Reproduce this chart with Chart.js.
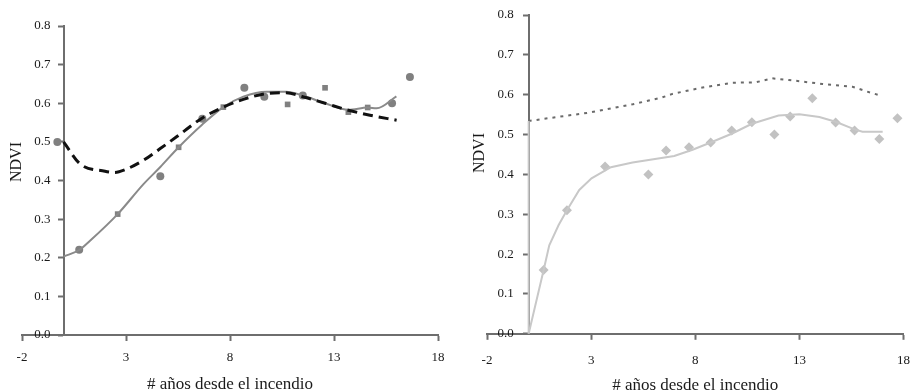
<!DOCTYPE html>
<html>
<head>
<meta charset="utf-8">
<script src="https://cdn.jsdelivr.net/npm/chart.js@4.4.1/dist/chart.umd.min.js"></script>
<style>
  html, body { margin: 0; padding: 0; background: #fff; }
  #wrap { position: relative; width: 912px; height: 390px; overflow: hidden; }
  .panel { position: absolute; top: 0; }
  #p1 { left: 0; width: 456px; height: 399px; }
  #p2 { left: 456px; width: 467px; height: 393px; }
</style>
</head>
<body>
<div id="wrap">
  <div class="panel" id="p1"><canvas id="c1"></canvas></div>
  <div class="panel" id="p2"><canvas id="c2"></canvas></div>
</div>
<script>
// ---- data ----
const xTicks = [-2, 3, 8, 13, 18];
const yTicks = [0, 0.1, 0.2, 0.3, 0.4, 0.5, 0.6, 0.7, 0.8];

// left panel: observed points (two marker types) and two fitted curves
const circX = [-0.3, 0.75, 4.65, 6.67, 8.69, 9.65, 11.5, 15.79, 16.65];
const circY = [0.50, 0.221, 0.411, 0.56, 0.64, 0.617, 0.62, 0.60, 0.668];
const sqX = [2.6, 5.53, 7.68, 10.77, 12.57, 13.69, 14.62];
const sqY = [0.313, 0.486, 0.59, 0.597, 0.64, 0.577, 0.589];
const fitSolidX = [0, 0.75, 1.27, 2.6, 3.83, 4.65, 5.53, 6.67, 7.68, 8.64, 9.76, 10.7, 11.5, 12.57, 13.69, 14.62, 15.05, 16.0];
const fitSolidY = [0.203, 0.22, 0.244, 0.313, 0.39, 0.435, 0.486, 0.545, 0.59, 0.617, 0.63, 0.63, 0.62, 0.60, 0.583, 0.589, 0.587, 0.618];
const fitDashX = [0, 0.79, 1.99, 2.45, 2.95, 3.83, 4.63, 5.53, 6.67, 7.68, 8.64, 9.76, 10.7, 11.5, 12.57, 13.69, 14.73, 16.01];
const fitDashY = [0.50, 0.443, 0.424, 0.421, 0.428, 0.452, 0.482, 0.517, 0.562, 0.59, 0.61, 0.625, 0.627, 0.617, 0.60, 0.582, 0.569, 0.556];

// right panel: observed points, solid trend and dotted reference
const diaX = [0.72, 1.84, 3.67, 5.75, 6.6, 7.7, 8.74, 9.75, 10.72, 11.8, 12.56, 13.62, 14.74, 15.65, 16.84, 17.71];
const diaY = [0.16, 0.31, 0.42, 0.40, 0.46, 0.468, 0.48, 0.51, 0.531, 0.50, 0.545, 0.591, 0.53, 0.51, 0.489, 0.541];
const trendX = [0, 0.72, 0.99, 1.44, 1.84, 2.43, 3.02, 3.95, 4.99, 6.99, 7.87, 8.74, 9.75, 10.72, 12.0, 13.0, 13.96, 14.74, 15.65, 16.03, 17.0];
const trendY = [0, 0.16, 0.222, 0.273, 0.31, 0.361, 0.39, 0.418, 0.43, 0.446, 0.462, 0.48, 0.502, 0.527, 0.548, 0.551, 0.544, 0.532, 0.513, 0.507, 0.507];
const refX = [0, 1.5, 2.9, 5.0, 6.4, 6.9, 8.35, 9.8, 10.9, 11.7, 12.5, 14.1, 15.55, 16.36, 16.76];
const refY = [0.534, 0.545, 0.555, 0.576, 0.593, 0.602, 0.618, 0.63, 0.631, 0.641, 0.637, 0.627, 0.62, 0.606, 0.60];

const pts = (xs, ys) => xs.map((x, i) => ({ x: x, y: ys[i] }));

const FONT = '"Liberation Serif", "Times New Roman", serif';
const AXIS = '#6e6e6e';
const TXT = '#1a1a1a';

// y tick labels left of the axis drawn at x = 0, and rotated y title
const yText = {
  id: 'yText',
  afterDraw(chart, args, opts) {
    const ctx = chart.ctx;
    const xs = chart.scales.x, ys = chart.scales.y;
    const ax = xs.getPixelForValue(0);
    ctx.save();
    ctx.font = '13px ' + FONT;
    ctx.fillStyle = TXT;
    ctx.textAlign = 'right';
    ctx.textBaseline = 'middle';
    yTicks.forEach(v => {
      ctx.fillText(v.toFixed(1), ax - opts.gap, ys.getPixelForValue(v));
    });
    ctx.translate(opts.x, opts.y);
    ctx.rotate(-Math.PI / 2);
    ctx.font = '16px ' + FONT;
    ctx.textAlign = 'center';
    ctx.fillText('NDVI', 0, 0);
    ctx.restore();
  }
};

function makeScales(labelPad, titlePad, titleLH) {
  return {
    x: {
      type: 'linear',
      min: -2, max: 18,
      afterBuildTicks: (s) => { s.ticks = xTicks.map(v => ({ value: v })); },
      grid: { display: true, drawOnChartArea: false, drawTicks: true, tickLength: 6, tickColor: AXIS, tickWidth: 2 },
      border: { display: true, color: AXIS, width: 2 },
      ticks: { color: TXT, font: { family: FONT, size: 13 }, padding: labelPad, maxRotation: 0 },
      title: { display: true, text: '# años desde el incendio', color: TXT, font: { family: FONT, size: 17, lineHeight: titleLH }, padding: { top: titlePad, bottom: 0 } }
    },
    y: {
      type: 'linear',
      position: { x: 0 },
      min: 0, max: 0.8,
      afterBuildTicks: (s) => { s.ticks = yTicks.map(v => ({ value: v })); },
      grid: { display: true, drawOnChartArea: false, drawTicks: true, tickLength: 5, tickColor: AXIS, tickWidth: 2 },
      border: { display: true, color: AXIS, width: 2 },
      ticks: { display: false }
    }
  };
}

const common = {
  responsive: true,
  maintainAspectRatio: false,
  animation: false,
  events: [],
  plugins: { legend: { display: false }, tooltip: { enabled: false } }
};

new Chart(document.getElementById('c1'), {
  type: 'scatter',
  data: {
    datasets: [
      { type: 'line', data: pts(fitDashX, fitDashY), borderColor: '#111', borderWidth: 3, borderDash: [10, 6], pointRadius: 0, fill: false, cubicInterpolationMode: 'monotone' },
      { type: 'line', data: pts(fitSolidX, fitSolidY), borderColor: '#8a8a8a', borderWidth: 2, pointRadius: 0, fill: false, cubicInterpolationMode: 'monotone' },
      { data: pts(circX, circY), pointStyle: 'circle', pointRadius: 4, backgroundColor: '#808080', borderColor: '#808080', borderWidth: 0 },
      { data: pts(sqX, sqY), pointStyle: 'rect', pointRadius: 4, backgroundColor: '#808080', borderColor: '#808080', borderWidth: 0 }
    ]
  },
  options: Object.assign({}, common, {
    layout: { padding: { left: 22, right: 18, top: 26, bottom: 4 } },
    scales: makeScales(9, 0, 1.2),
    plugins: Object.assign({}, common.plugins, { yText: { x: 17, y: 162, gap: 13 } })
  }),
  plugins: [yText]
});

new Chart(document.getElementById('c2'), {
  type: 'scatter',
  data: {
    datasets: [
      { type: 'line', data: [{ x: trendX[0], y: trendY[0] }, { x: refX[0], y: refY[0] }], borderColor: '#c8c8c8', borderWidth: 2, pointRadius: 0, fill: false },
      { type: 'line', data: pts(refX, refY), borderColor: '#6a6a6a', borderWidth: 2, borderDash: [3, 5], pointRadius: 0, fill: false, tension: 0 },
      { type: 'line', data: pts(trendX, trendY), borderColor: '#c8c8c8', borderWidth: 2, pointRadius: 0, fill: false, tension: 0 },
      { data: pts(diaX, diaY), pointStyle: 'rectRot', pointRadius: 5, backgroundColor: '#c2c2c2', borderColor: '#c2c2c2', borderWidth: 0 }
    ]
  },
  options: Object.assign({}, common, {
    layout: { padding: { left: 31, right: 8, top: 15, bottom: 1 } },
    scales: makeScales(13, -3, 0.8),
    plugins: Object.assign({}, common.plugins, { yText: { x: 24, y: 153, gap: 15 } })
  }),
  plugins: [yText]
});
</script>
</body>
</html>
